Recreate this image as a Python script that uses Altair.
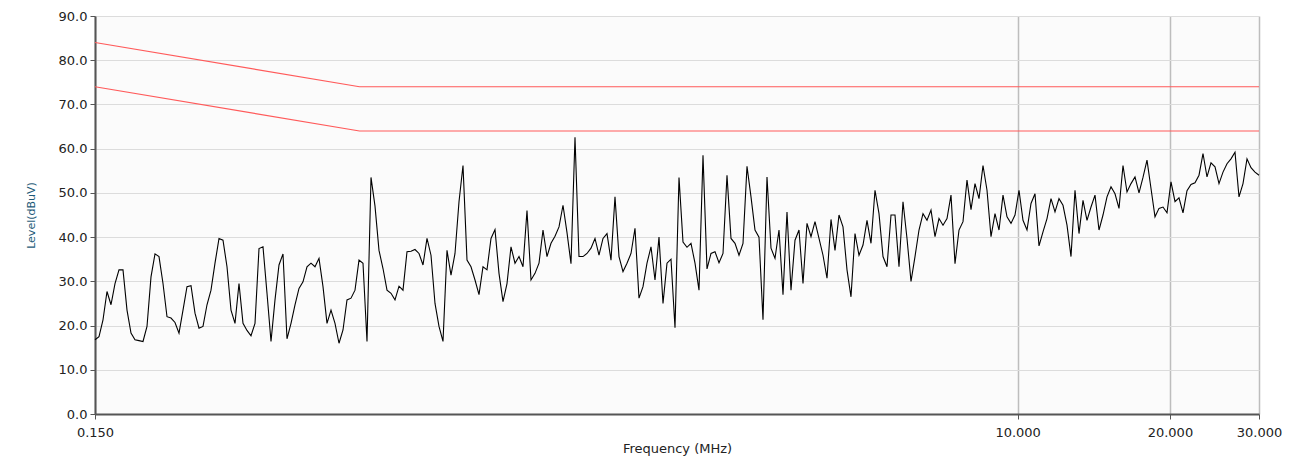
import altair as alt
import numpy as np
import pandas as pd

# Measured trace: level readings (dBuV) across the sweep, 0.15 MHz -> 30 MHz (log-spaced sweep)
levels = [
    16.8, 17.5, 21.3, 27.7, 24.7, 29.5, 32.6, 32.6, 23.5, 18.3, 16.8, 16.6, 16.4, 19.8, 31.0, 36.2,
    35.6, 29.5, 22.0, 21.7, 20.7, 18.3, 23.5, 28.8, 29.0, 22.8, 19.4, 19.8, 24.7, 28.0, 34.1, 39.7,
    39.3, 33.3, 23.5, 20.5, 29.5, 20.5, 18.9, 17.7, 20.5, 37.4, 37.8, 27.3, 16.4, 25.8, 33.7, 36.2,
    17.0, 20.5, 24.7, 28.4, 29.9, 33.3, 34.1, 33.3, 35.2, 28.8, 20.5, 23.5, 20.5, 16.0, 19.0, 25.8,
    26.2, 28.0, 34.8, 34.1, 16.4, 53.5, 47.0, 37.0, 32.9, 28.0, 27.3, 25.8, 28.9, 28.0, 36.7, 36.8,
    37.2, 36.3, 33.7, 39.7, 35.9, 25.0, 19.8, 16.4, 37.0, 31.4, 36.3, 48.0, 56.2, 34.8, 33.3, 30.3,
    27.0, 33.3, 32.6, 39.7, 41.7, 31.8, 25.4, 29.5, 37.8, 34.1, 35.6, 33.3, 46.0, 30.3, 31.8, 34.1,
    41.6, 35.6, 38.6, 40.2, 42.3, 47.2, 41.0, 34.0, 62.6, 35.6, 35.6, 36.3, 37.5, 39.7, 35.9, 39.7,
    40.8, 34.8, 49.1, 35.6, 32.2, 34.1, 36.3, 42.0, 26.2, 28.8, 34.1, 37.8, 30.3, 40.0, 25.0, 34.1,
    35.0, 19.5, 53.5, 38.9, 37.7, 38.6, 34.1, 28.0, 58.5, 32.8, 36.3, 36.7, 34.2, 36.3, 54.0, 39.7,
    38.6, 35.9, 38.6, 56.0, 49.1, 41.6, 40.0, 21.3, 53.6, 37.5, 35.2, 41.6, 27.0, 45.7, 28.0, 39.3,
    41.6, 29.5, 43.1, 40.1, 43.5, 39.7, 35.9, 30.7, 44.0, 37.0, 45.0, 42.3, 32.6, 26.5, 40.8, 35.9,
    38.2, 43.8, 38.6, 50.6, 45.3, 35.6, 33.3, 45.0, 45.0, 33.3, 48.0, 39.7, 30.0, 35.6, 41.6, 45.3,
    43.8, 46.1, 40.1, 44.2, 42.7, 44.2, 49.5, 34.0, 41.6, 43.5, 52.9, 46.2, 52.1, 48.7, 56.2, 50.6,
    40.1, 45.3, 41.6, 49.5, 44.6, 43.1, 45.0, 50.6, 43.8, 41.6, 47.6, 49.8, 38.0, 41.2, 44.2, 48.7,
    45.7, 48.7, 47.2, 42.7, 35.6, 50.6, 40.8, 48.3, 43.8, 46.8, 49.5, 41.6, 45.0, 49.1, 51.4, 49.8,
    46.5, 56.2, 50.2, 52.1, 53.6, 50.0, 53.5, 57.4, 51.0, 44.6, 46.5, 46.8, 45.5, 52.5, 48.0, 48.9,
    45.5, 50.5, 51.9, 52.3, 54.0, 58.9, 53.6, 56.8, 55.9, 52.1, 54.7, 56.6, 57.7, 59.2, 49.1, 52.1,
    57.7, 55.7, 54.7, 54.0,
]
freq_start, freq_stop = 0.15, 30.0

# Limit lines
limit_freqs = [0.15, 0.5, 30.0]
limit_upper = [84.0, 74.0, 74.0]
limit_lower = [74.0, 64.0, 64.0]

x_ticks = [0.15, 10.0, 20.0, 30.0]
y_ticks = [0, 10, 20, 30, 40, 50, 60, 70, 80, 90]

freqs = np.geomspace(freq_start, freq_stop, len(levels))
trace = pd.DataFrame({"freq": freqs, "level": levels})
limits = pd.concat([
    pd.DataFrame({"freq": limit_freqs, "level": limit_upper, "line": "upper"}),
    pd.DataFrame({"freq": limit_freqs, "level": limit_lower, "line": "lower"}),
])

FONT = "DejaVu Sans"

xscale = alt.Scale(type="log", domain=[freq_start, freq_stop], nice=False)
yscale = alt.Scale(domain=[0, 90], nice=False)

xaxis = alt.Axis(
    values=x_ticks, format=".3f", title="Frequency (MHz)", grid=True,
    gridColor="#bdbdbd", gridWidth=1.5, domainColor="#555555", domainWidth=2,
    tickColor="#555555", tickSize=5, labelFontSize=13, labelColor="#222222",
    labelFont=FONT, titleFont=FONT, titleFontSize=13, titleFontWeight="normal",
    titleColor="#222222", labelPadding=7, titlePadding=3, labelFlush=False,
)
yaxis = alt.Axis(
    values=y_ticks, format=".1f", title="Level(dBuV)", grid=True,
    gridColor="#dcdcdc", gridWidth=1, domainColor="#555555", domainWidth=2,
    tickColor="#555555", tickSize=5, labelFontSize=13, labelColor="#222222",
    labelFont=FONT, titleFont=FONT, titleFontSize=11, titleFontWeight="normal",
    titleColor="#1d5a78", labelPadding=3, titlePadding=22,
)

base_line = alt.Chart(trace).mark_line(color="#000000", strokeWidth=1.1, interpolate="linear").encode(
    x=alt.X("freq:Q", scale=xscale, axis=xaxis),
    y=alt.Y("level:Q", scale=yscale, axis=yaxis),
)

limit_lines = alt.Chart(limits).mark_line(color="#ff5a5a", strokeWidth=1.2).encode(
    x=alt.X("freq:Q", scale=xscale),
    y=alt.Y("level:Q", scale=yscale),
    detail="line:N",
)

chart = alt.layer(limit_lines, base_line).properties(
    width=1164, height=398,
    autosize=alt.AutoSizeParams(type="none"),
    padding={"left": 87, "top": 8, "right": 30, "bottom": 46},
    background="#ffffff",
).configure_view(
    fill="#fbfbfb", stroke=None,
)

chart.save("out.html", embed_options={"renderer": "svg", "actions": False})
